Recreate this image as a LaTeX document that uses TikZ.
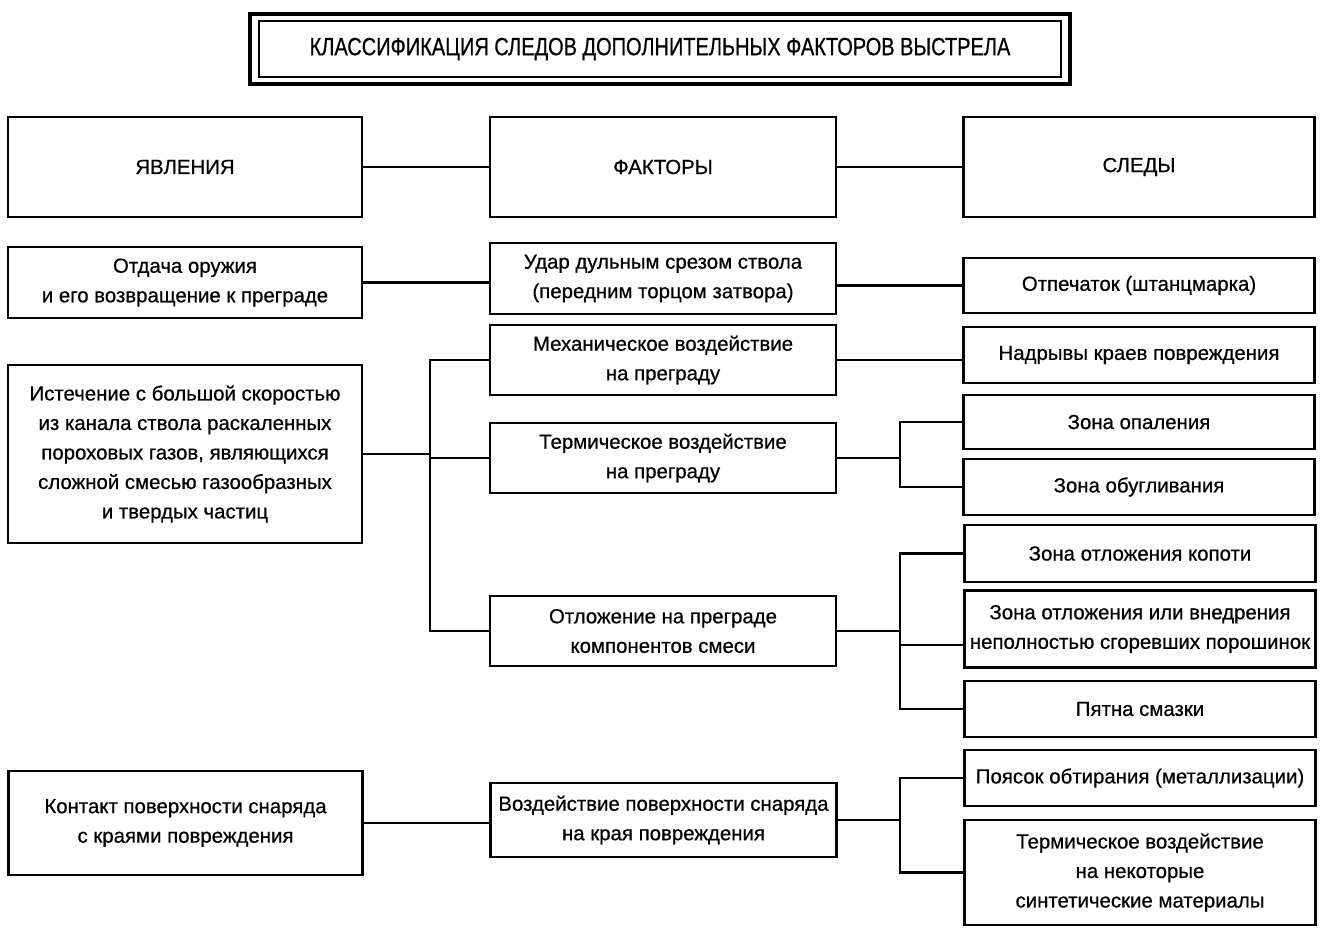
\documentclass[tikz,border=0pt]{standalone}
\usepackage{fontspec}
\setmainfont{Liberation Sans}[FakeBold=0.6]
\newfontfamily\uzkiy[FakeStretch=0.8,FakeBold=0.6]{Liberation Sans}
\usetikzlibrary{calc}

\tikzset{
  blok/.style={draw, line width=2.1pt, align=center, inner sep=0pt,
    font=\fontsize{20.4}{29.5}\selectfont},
  levyj/.style={blok, minimum width=354, minimum height=#1},
  sredn/.style={blok, minimum width=346, minimum height=#1},
  pravyj/.style={blok, minimum width=351, minimum height=#1},
  svyaz/.style={line width=2.1pt}
}

\begin{document}
\begin{tikzpicture}[x=1pt,y=-1pt]
\useasboundingbox (0,0) rectangle (1323,935);
\node[draw, line width=1.4pt, minimum width=802, minimum height=56,
  font=\uzkiy\fontsize{25}{28}\selectfont] (titul) at (660,49)
  {КЛАССИФИКАЦИЯ СЛЕДОВ ДОПОЛНИТЕЛЬНЫХ ФАКТОРОВ ВЫСТРЕЛА};
\node[draw, line width=4.5pt, minimum width=820, minimum height=70] (ramka) at (titul) {};

\node[levyj=100]  (yav)  at (185,167) {ЯВЛЕНИЯ};
\node[sredn=100]  (fak)  at (663,167) {ФАКТОРЫ};
\node[pravyj=100] (sled) at (1139,167) {СЛЕДЫ};

\node[levyj=71]  (otd)  at (185,282.5) {Отдача оружия\\и его возвращение к преграде};
\node[sredn=71]  (udar) at (663,278.5) {Удар дульным срезом ствола\\(передним торцом затвора)};
\node[pravyj=55] (otp)  at (1139,285.5) {Отпечаток (штанцмарка)};

\node[levyj=178] (ist)  at (185,454) {Истечение с большой скоростью\\из канала ствола раскаленных\\пороховых газов, являющихся\\сложной смесью газообразных\\и твердых частиц};
\node[sredn=70]  (mech) at (663,360) {Механическое воздействие\\на преграду};
\node[pravyj=56] (nadr) at (1139,355) {Надрывы краев повреждения};
\node[sredn=70]  (term) at (663,458) {Термическое воздействие\\на преграду};
\node[pravyj=54] (opal) at (1139,422) {Зона опаления};
\node[pravyj=56] (obug) at (1139,487) {Зона обугливания};
\node[sredn=70]  (otl)  at (663,631) {Отложение на преграде\\компонентов смеси};
\node[pravyj=57] (kop)  at (1140,553.5) {Зона отложения копоти};
\node[pravyj=77] (poro) at (1140,629) {Зона отложения или внедрения\\неполностью сгоревших порошинок};
\node[pravyj=56] (pyat) at (1140,709) {Пятна смазки};

\node[levyj=104]  (kont)  at (185.5,823) {Контакт поверхности снаряда\\с краями повреждения};
\node[sredn=74]   (vozd)  at (663.5,820) {Воздействие поверхности снаряда\\на края повреждения};
\node[pravyj=56]  (poyas) at (1140,778) {Поясок обтирания (металлизации)};
\node[pravyj=105] (tsin)  at (1140,872.5) {Термическое воздействие\\на некоторые\\синтетические материалы};

\coordinate (shina)  at (430,454);
\coordinate (vilka1) at (900,458);
\coordinate (vilka2) at (900,631);
\coordinate (vilka3) at (900,820);

\draw[svyaz] (yav) -- (fak) (fak) -- (sled);
\draw[svyaz] (otd.east) -- (otd.east -| udar.west);
\draw[svyaz] (otp.west) -- (otp.west -| udar.east);
\draw[svyaz] (mech.east) -- (mech.east -| nadr.west);
\draw[svyaz] (ist.east) -- (shina) (mech.west) -| (shina) |- (otl.west)
  (term.west) -- (term.west -| shina);
\draw[svyaz] (term.east) -- (vilka1) (opal.west) -| (vilka1) |- (obug.west);
\draw[svyaz] (otl.east) -- (vilka2) (kop.west) -| (vilka2) |- (pyat.west)
  ([yshift=-16pt]poro.west) -- ([yshift=-16pt]poro.west -| vilka2);
\draw[svyaz] (kont.east) -- (kont.east -| vozd.west);
\draw[svyaz] (vozd.east) -- (vilka3) (poyas.west) -| (vilka3) |- (tsin.west);
\end{tikzpicture}
\end{document}
